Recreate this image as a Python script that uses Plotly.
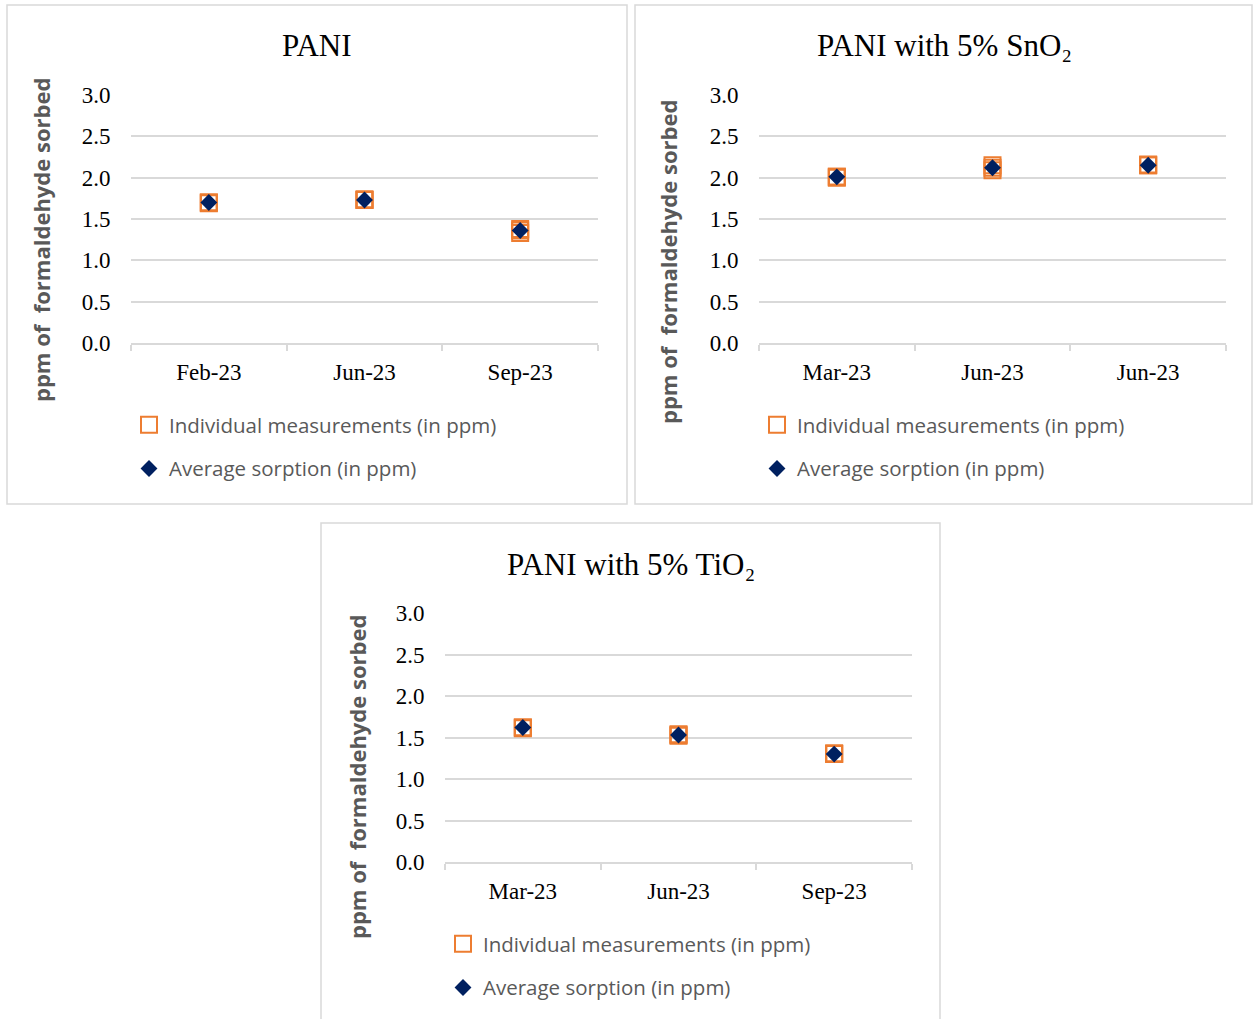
import plotly.graph_objects as go

W, H = 1253, 1019

# ---------------- data ----------------
pani_categories = ["Feb-23", "Jun-23", "Sep-23"]
pani_individual = [[1.69, 1.70, 1.70], [1.73, 1.73, 1.74], [1.33, 1.36, 1.38]]
pani_average = [1.70, 1.73, 1.36]

sno2_categories = ["Mar-23", "Jun-23", "Jun-23"]
sno2_individual = [[2.00, 2.01, 2.01], [2.09, 2.12, 2.15], [2.15, 2.15, 2.16]]
sno2_average = [2.01, 2.12, 2.15]

tio2_categories = ["Mar-23", "Jun-23", "Sep-23"]
tio2_individual = [[1.61, 1.62, 1.62], [1.52, 1.53, 1.54], [1.30, 1.30, 1.31]]
tio2_average = [1.62, 1.53, 1.30]

titles = ["PANI", "PANI with 5% SnO₂", "PANI with 5% TiO₂"]
y_title = "ppm of  formaldehyde sorbed"
series_names = ["Individual measurements (in ppm)", "Average sorption (in ppm)"]
y_ticks = [0.0, 0.5, 1.0, 1.5, 2.0, 2.5, 3.0]

ORANGE = "#ED7D31"
NAVY = "#002060"
GRID = "#d9d9d9"
TXT = "#595959"
SERIF = "Liberation Serif, Times New Roman, serif"
SANS = "Open Sans, Noto Sans, sans-serif"

def px_x(p):
    return p / W

def px_y(p):
    return 1 - p / H

# panel geometry (pixels): plot area, border box, title pos, y-title pos, legend pos
panels = [
    dict(cats=pani_categories, ind=pani_individual, avg=pani_average,
         plot=(131, 598, 95, 343), box=(7, 627, 5, 504), title=(317, 45),
         ytitle=(41, 240), legend=(129, 405)),
    dict(cats=sno2_categories, ind=sno2_individual, avg=sno2_average,
         plot=(759, 1226, 95, 343), box=(635, 1252, 5, 504), title=(944, 45),
         ytitle=(668, 262), legend=(757, 405)),
    dict(cats=tio2_categories, ind=tio2_individual, avg=tio2_average,
         plot=(445, 912, 613, 862), box=(321, 940, 523, 1030), title=(631, 564),
         ytitle=(357, 777), legend=(443, 924)),
]

fig = go.Figure()
annotations = []
shapes = []

for i, p in enumerate(panels):
    n = "" if i == 0 else str(i + 1)
    xa, ya = "x" + n, "y" + n
    leg = "legend" + n
    xs = []
    ys = []
    for j, vals in enumerate(p["ind"]):
        for v in vals:
            xs.append(j)
            ys.append(v)
    fig.add_trace(go.Scatter(
        x=xs, y=ys, mode="markers", name=series_names[0],
        xaxis=xa, yaxis=ya, legend=leg, legendgroup="a" + n,
        marker=dict(symbol="square-open", size=16, color=ORANGE,
                    line=dict(width=2, color=ORANGE)),
        hoverinfo="y"))
    fig.add_trace(go.Scatter(
        x=list(range(len(p["avg"]))), y=p["avg"], mode="markers",
        name=series_names[1], xaxis=xa, yaxis=ya, legend=leg,
        legendgroup="b" + n,
        marker=dict(symbol="diamond", size=13, color=NAVY,
                    line=dict(width=0)),
        hoverinfo="y"))

    x0, x1, y0, y1 = p["plot"]
    fig.layout["xaxis" + n] = dict(
        domain=[px_x(x0), px_x(x1)], anchor=ya, range=[-0.5, 2.5],
        tickmode="array", tickvals=[0, 1, 2], ticktext=p["cats"],
        ticks="outside", ticklen=8, tickcolor="rgba(0,0,0,0)",
        showgrid=False, zeroline=False, showline=True, linecolor=GRID,
        linewidth=1.5, tickfont=dict(family=SERIF, size=23, color="#000000"),
        minor=dict(tickmode="array", tickvals=[-0.5, 0.5, 1.5, 2.5],
                   ticks="outside", ticklen=6, tickcolor=GRID, tickwidth=1.5,
                   showgrid=False),
        automargin=False, fixedrange=True)
    fig.layout["yaxis" + n] = dict(
        domain=[px_y(y1), px_y(y0)], anchor=xa, range=[0, 3],
        tickmode="array", tickvals=y_ticks, tickformat=".1f",
        ticks="outside", ticklen=15, tickcolor="rgba(0,0,0,0)",
        showgrid=True, gridcolor=GRID, gridwidth=1.5, zeroline=False,
        showline=False, tickfont=dict(family=SERIF, size=23, color="#000000"),
        automargin=False, fixedrange=True)

    lx, ly = p["legend"]
    fig.layout[leg] = dict(
        x=px_x(lx), y=px_y(ly), xanchor="left", yanchor="top",
        xref="paper", yref="paper", orientation="v",
        traceorder="grouped", tracegroupgap=14,
        font=dict(family=SANS, size=20.5, color=TXT),
        bgcolor="rgba(0,0,0,0)", itemclick=False, itemdoubleclick=False)

    tx, ty = p["title"]
    annotations.append(dict(
        text=titles[i], x=px_x(tx), y=px_y(ty), xref="paper", yref="paper",
        xanchor="center", yanchor="middle", showarrow=False,
        font=dict(family=SERIF, size=31, color="#000000")))
    yx, yy = p["ytitle"]
    annotations.append(dict(
        text=y_title, x=px_x(yx), y=px_y(yy), xref="paper", yref="paper",
        xanchor="center", yanchor="middle", showarrow=False, textangle=-90,
        font=dict(family=SANS, size=22, color=TXT, weight="bold")))

    bx0, bx1, by0, by1 = p["box"]
    shapes.append(dict(
        type="rect", xref="paper", yref="paper",
        x0=px_x(bx0), x1=px_x(bx1), y0=px_y(by1), y1=px_y(by0),
        line=dict(color=GRID, width=1.5), fillcolor="rgba(0,0,0,0)",
        layer="below"))

fig.update_layout(
    width=W, height=H,
    margin=dict(l=0, r=0, t=0, b=0, pad=0, autoexpand=False),
    paper_bgcolor="white", plot_bgcolor="white",
    annotations=annotations, shapes=shapes, showlegend=True)

fig.write_html("out.html")
